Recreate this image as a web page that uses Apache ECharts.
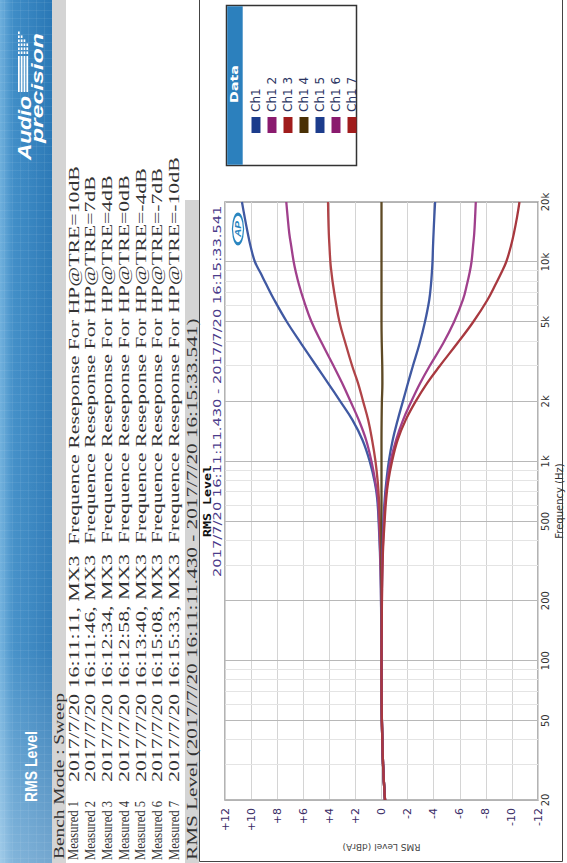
<!DOCTYPE html>
<html><head><meta charset="utf-8">
<script src="https://cdn.jsdelivr.net/npm/echarts@6/dist/echarts.min.js"></script>
<style>
html,body{margin:0;padding:0;background:#fff;overflow:hidden;width:567px;height:863px;}
#wrap{position:absolute;left:0;top:0;width:863px;height:567px;transform-origin:0 0;transform:translateY(863px) rotate(-90deg);}
#chart{width:863px;height:567px;}
</style></head><body>
<div id="wrap"><div id="chart"></div></div>
<script>
// ---- data ----
const freqHz = [20, 30, 50, 100, 150, 230, 350, 500, 650, 780, 1000, 1280, 1610, 2000, 2470, 3000, 3900, 5000, 6450, 7800, 8800, 10000, 12000, 13900, 16900, 20000];
const ch1   = [-0.27,-0.12,-0.03,0, 0.02,0.05,0.12,0.22,0.33,0.51,0.90,1.46,2.22,3.16,4.10,4.98,6.16,7.25,8.22,8.87,9.27,9.70,10.04,10.25,10.50,10.70];
const ch1_2 = [-0.27,-0.12,-0.03,0, 0.02,0.04,0.10,0.19,0.28,0.46,0.77,1.18,1.74,2.38,3.02,3.66,4.56,5.36,5.97,6.35,6.55,6.73,6.92,7.07,7.20,7.30];
const ch1_3 = [-0.27,-0.12,-0.03,0, 0.01,0.02,0.06,0.13,0.20,0.28,0.46,0.72,1.02,1.41,1.80,2.24,2.76,3.22,3.53,3.73,3.83,3.92,3.99,4.04,4.08,4.10];
const ch1_4 = [-0.27,-0.12,-0.03,0, 0,   0,   0,   0,   0,   0,   0,   0, -0.01,-0.03,-0.07,-0.06,-0.02,0,0,0,0,0,0,0,0,0];
const ch1_5 = [-0.27,-0.12,-0.03,0,-0.01,-0.03,-0.07,-0.15,-0.25,-0.36,-0.56,-0.86,-1.24,-1.64,-2.03,-2.40,-2.92,-3.33,-3.66,-3.80,-3.86,-3.91,-3.95,-3.99,-4.05,-4.11];
const ch1_6 = [-0.27,-0.12,-0.03,0,-0.02,-0.035,-0.09,-0.19,-0.30,-0.43,-0.69,-1.12,-1.65,-2.29,-2.97,-3.68,-4.72,-5.56,-6.24,-6.57,-6.75,-6.90,-7.02,-7.11,-7.18,-7.23];
const ch1_7 = [-0.27,-0.12,-0.03,0,-0.02,-0.045,-0.11,-0.24,-0.36,-0.50,-0.81,-1.24,-1.85,-2.62,-3.50,-4.45,-5.80,-7.03,-8.12,-8.78,-9.18,-9.56,-9.92,-10.15,-10.40,-10.58];
const seriesNames = ['Ch1','Ch1 2','Ch1 3','Ch1 4','Ch1 5','Ch1 6','Ch1 7'];
const seriesValues = [ch1, ch1_2, ch1_3, ch1_4, ch1_5, ch1_6, ch1_7];
const lineColors = ['#4059a2','#a0408c','#b04448','#5e4a25','#4059a2','#a0408c','#a8383f'];
const legendColors = ['#1c3c8c','#8a1a6e','#a01c1c','#4a3005','#1c3c8c','#8a1a6e','#a01c1c'];
const freqLabelTicks = [20, 50, 100, 200, 500, 1000, 2000, 5000, 10000, 20000];
const freqMinorTicks = [30, 40, 60, 70, 80, 90, 300, 400, 600, 700, 800, 900, 3000, 4000, 6000, 7000, 8000, 9000];
const measuredLabels = ['Measured 1','Measured 2','Measured 3','Measured 4','Measured 5','Measured 6','Measured 7'];
const measuredTimes = ['16:11:11','16:11:46','16:12:34','16:12:58','16:13:40','16:15:08','16:15:33'];
const trebleSettings = ['10','7','4','0','-4','-7','-10'];
const headerTitle = 'RMS Level';
const benchText = 'Bench Mode : Sweep';
const rangeText = 'RMS Level (2017/7/20 16:11:11.430 - 2017/7/20 16:15:33.541)';
const chartTitle = 'RMS Level';
const chartSub = '2017/7/20 16:11:11.430 - 2017/7/20 16:15:33.541';

// ---- helpers ----
const mctx = document.createElement('canvas').getContext('2d');
function fit(text, font, w){ mctx.font = font; return w / mctx.measureText(text).width; }
function txt(text, font, x, y, fill, align, w, extra){
  const el = {type:'text', x:x, y:y, scaleX: w ? fit(text, font, w) : 1,
    style:{text:text, font:font, fill:fill, align:align||'left', textAlign:align||'left', verticalAlign:'middle', textVerticalAlign:'middle'}};
  return Object.assign(el, extra||{});
}

const SERIF = '15px "Liberation Serif"';
const TEXTC = '#333333';
const graphics = [];
// header band
graphics.push({type:'rect', shape:{x:0,y:0,width:863,height:52}, style:{fill:new echarts.graphic.LinearGradient(0,0,0,1,[{offset:0,color:'#6fb0dd'},{offset:0.25,color:'#3f8dc7'},{offset:1,color:'#2a78b6'}])}});
graphics.push({type:'rect', shape:{x:0,y:0,width:863,height:52}, style:{fill:new echarts.graphic.LinearGradient(0,0,1,0,[{offset:0,color:'rgba(255,255,255,0.35)'},{offset:0.25,color:'rgba(255,255,255,0.05)'},{offset:1,color:'rgba(255,255,255,0)'}])}});
for (let gx = 4; gx < 863; gx += 8) graphics.push({type:'rect', shape:{x:gx,y:0,width:1,height:52}, style:{fill:'rgba(255,255,255,0.07)'}});
for (let gy = 4; gy < 52; gy += 8) graphics.push({type:'rect', shape:{x:0,y:gy,width:863,height:1}, style:{fill:'rgba(255,255,255,0.07)'}});
graphics.push(txt(headerTitle, 'bold 16px "Liberation Sans"', 61, 31, '#ffffff', 'left', 71));
// logo
graphics.push(txt('Audio', 'bold italic 18px "Liberation Sans"', 703, 24.5, '#ffffff', 'left', 64));
graphics.push(txt('precision', 'bold italic 16px "Liberation Sans"', 720, 37, '#ffffff', 'left', 110));
[18, 20.8, 23.6, 26.4].forEach(function(by, k){
  graphics.push({type:'rect', shape:{x:771,y:by,width:36,height:1.7}, style:{fill:'#ffffff'}});
  for (let dx = 809; dx < 830 - k*3; dx += 4) graphics.push({type:'rect', shape:{x:dx,y:by,width:2.6,height:1.7}, style:{fill:'#ffffff'}});
});
// bench bar
graphics.push({type:'rect', shape:{x:0,y:52,width:863,height:14}, style:{fill:'#d4d4d4'}});
graphics.push(txt(benchText, SERIF, 4, 59, TEXTC, 'left', 166));
// measurement rows
const longLines = measuredTimes.map(function(t, i){ return '2017/7/20 ' + t + ', MX3  Frequence Reseponse For HP@TRE=' + trebleSettings[i] + 'dB'; });
const longScale = fit(longLines[0], SERIF, 616);
const labScale = fit(measuredLabels[0], SERIF, 59);
for (let i = 0; i < 7; i++) {
  const cy = 73.5 + i * 16.75;
  graphics.push(txt(measuredLabels[i], SERIF, 3, cy, TEXTC, 'left', 0, {scaleX: labScale}));
  graphics.push(txt(longLines[i], SERIF, 81, cy, TEXTC, 'left', 0, {scaleX: longScale}));
}
// range bar
graphics.push({type:'rect', shape:{x:0,y:185,width:663,height:14}, style:{fill:'#d4d4d4'}});
graphics.push(txt(rangeText, SERIF, 3, 192.5, TEXTC, 'left', 542));
// chart frame
graphics.push({type:'rect', shape:{x:1.5,y:199.5,width:870,height:363}, style:{fill:'none', stroke:'#444', lineWidth:1}});
graphics.push(txt(chartTitle, 'bold 11px "DejaVu Sans Mono"', 362, 207, '#111', 'center', 72));
graphics.push(txt(chartSub, '10px "DejaVu Sans"', 286, 217.5, '#4b3b8a', 'left', 372));
// legend box
graphics.push({type:'rect', z:1, shape:{x:697.5,y:226.5,width:160,height:130}, style:{fill:'#fff', stroke:'#333', lineWidth:1.5}});
graphics.push({type:'rect', z:1, shape:{x:698.2,y:227.2,width:158.6,height:15.5}, style:{fill:'#2c80bd'}});
graphics.push(txt('Data', 'bold 10px "DejaVu Sans"', 779, 234.5, '#ffffff', 'center', 38, {z:2}));
// AP mark
graphics.push({type:'circle', z:10, x:634, y:238, scaleX:2.7, shape:{cx:0,cy:0,r:5.5}, style:{fill:'none', stroke:'#2a86c0', lineWidth:1.2, strokeNoScale:true}});
graphics.push(txt('AP', 'italic bold 9px "Liberation Sans"', 634, 238, '#2a86c0', 'center', 16, {z:10}));

const series = seriesNames.map(function(n, k){
  return {name:n, type:'line', xAxisIndex:0, yAxisIndex:0, showSymbol:false, smooth:0.4,
    lineStyle:{width:2.3, color:lineColors[k]}, itemStyle:{color:legendColors[k]},
    data: freqHz.map(function(f, i){ return [f, seriesValues[k][i]]; })};
});

const chart = echarts.init(document.getElementById('chart'), null, {renderer:'svg'});
chart.setOption({
  animation:false,
  backgroundColor:'#ffffff',
  textStyle:{fontFamily:'DejaVu Sans'},
  grid:{left:63, right:202, top:225, bottom:29, show:true, borderColor:'#9a9a9a', borderWidth:1.5, backgroundColor:'#ffffff', outerBoundsMode:'none', containLabel:false},
  legend:{orient:'vertical', left:725, top:245, itemWidth:16, itemHeight:9, itemGap:4, icon:'rect', selectedMode:false,
    itemStyle:{borderWidth:0},
    textStyle:{fontSize:12, lineHeight:12, color:'#2b3563', fontFamily:'DejaVu Sans'},
    data: seriesNames.map(function(n, k){ return {name:n, itemStyle:{color:legendColors[k]}}; })},
  xAxis:[
    {type:'log', logBase:10, min:20, max:20000, name:'Frequency (Hz)', nameLocation:'middle', nameGap:11,
      nameTextStyle:{fontSize:10, color:'#333', fontFamily:'DejaVu Sans'},
      axisLine:{show:false}, axisTick:{show:false, customValues:freqLabelTicks},
      axisLabel:{customValues:freqLabelTicks, margin:2, fontSize:10, color:'#333', fontFamily:'DejaVu Sans',
        formatter:function(v){ return v >= 1000 ? (v/1000) + 'k' : String(v); }},
      splitLine:{show:true, lineStyle:{color:'#b8b8b8', width:1}}},
    {type:'log', logBase:10, min:20, max:20000, position:'bottom',
      axisLine:{show:false}, axisTick:{show:false, customValues:freqMinorTicks},
      axisLabel:{show:false, customValues:freqMinorTicks},
      splitLine:{show:true, lineStyle:{color:'#e4e4e4', width:1}}}
  ],
  yAxis:{type:'value', min:-12, max:12, interval:2, name:'RMS Level (dBrA)', nameLocation:'middle', nameRotate:90, nameGap:39,
    nameTextStyle:{fontSize:9, color:'#444', fontFamily:'DejaVu Sans'},
    axisLine:{show:false}, axisTick:{show:false},
    axisLabel:{margin:8, fontSize:11, color:'#3a2c66', fontFamily:'DejaVu Sans', formatter:function(v){ return v > 0 ? '+' + v : String(v); }},
    splitLine:{show:true, lineStyle:{color:'#d4d4d4', width:1}}},
  graphic:{elements:graphics},
  series:series
});
</script>
</body></html>
